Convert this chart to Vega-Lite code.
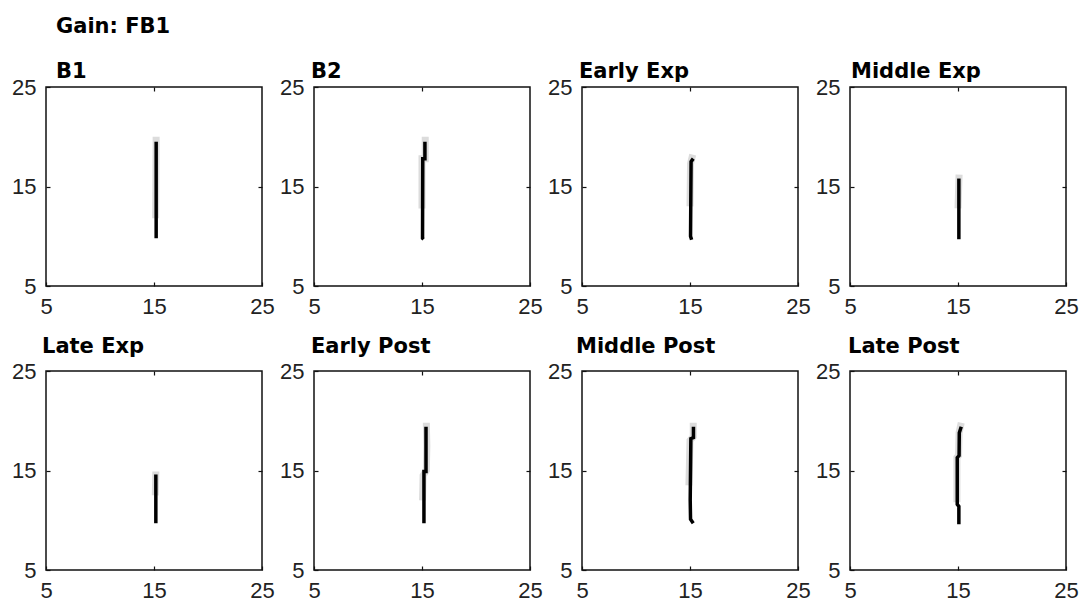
{
  "$schema": "https://vega.github.io/schema/vega-lite/v6.json",
  "padding": {"left": 10, "top": 16, "right": 5, "bottom": 2},
  "title": {"text": "Gain: FB1", "anchor": "start", "frame": "group", "dx": 10, "offset": 23},
  "columns": 4,
  "bounds": "flush",
  "spacing": {"row": 85, "column": 52},
  "datasets": {
    "lines": [
      {"panel": "B1", "part": "band", "ord": 1, "x": 15.2, "y": 20.0},
      {"panel": "B1", "part": "band", "ord": 2, "x": 15.15, "y": 11.8},
      {"panel": "B1", "part": "mean", "ord": 1, "x": 15.2, "y": 19.5},
      {"panel": "B1", "part": "mean", "ord": 2, "x": 15.2, "y": 9.8},

      {"panel": "B2", "part": "band", "ord": 1, "x": 15.3, "y": 20.0},
      {"panel": "B2", "part": "band", "ord": 2, "x": 15.3, "y": 17.8},
      {"panel": "B2", "part": "band", "ord": 3, "x": 15.0, "y": 17.8},
      {"panel": "B2", "part": "band", "ord": 4, "x": 15.0, "y": 12.8},
      {"panel": "B2", "part": "mean", "ord": 1, "x": 15.27, "y": 19.5},
      {"panel": "B2", "part": "mean", "ord": 2, "x": 15.27, "y": 17.8},
      {"panel": "B2", "part": "mean", "ord": 3, "x": 15.07, "y": 17.8},
      {"panel": "B2", "part": "mean", "ord": 4, "x": 15.05, "y": 9.8},
      {"panel": "B2", "part": "mean", "ord": 5, "x": 15.15, "y": 9.7},

      {"panel": "Early Exp", "part": "band", "ord": 1, "x": 15.25, "y": 18.2},
      {"panel": "Early Exp", "part": "band", "ord": 2, "x": 15.05, "y": 17.3},
      {"panel": "Early Exp", "part": "band", "ord": 3, "x": 15.0, "y": 13.0},
      {"panel": "Early Exp", "part": "mean", "ord": 1, "x": 15.3, "y": 17.8},
      {"panel": "Early Exp", "part": "mean", "ord": 2, "x": 15.1, "y": 17.5},
      {"panel": "Early Exp", "part": "mean", "ord": 3, "x": 15.05, "y": 10.0},
      {"panel": "Early Exp", "part": "mean", "ord": 4, "x": 15.15, "y": 9.65},

      {"panel": "Middle Exp", "part": "band", "ord": 1, "x": 15.1, "y": 16.2},
      {"panel": "Middle Exp", "part": "band", "ord": 2, "x": 15.0, "y": 12.8},
      {"panel": "Middle Exp", "part": "mean", "ord": 1, "x": 15.08, "y": 15.8},
      {"panel": "Middle Exp", "part": "mean", "ord": 2, "x": 15.08, "y": 9.7},

      {"panel": "Late Exp", "part": "band", "ord": 1, "x": 15.17, "y": 14.9},
      {"panel": "Late Exp", "part": "band", "ord": 2, "x": 15.12, "y": 12.5},
      {"panel": "Late Exp", "part": "mean", "ord": 1, "x": 15.17, "y": 14.6},
      {"panel": "Late Exp", "part": "mean", "ord": 2, "x": 15.17, "y": 9.7},

      {"panel": "Early Post", "part": "band", "ord": 1, "x": 15.4, "y": 19.8},
      {"panel": "Early Post", "part": "band", "ord": 2, "x": 15.45, "y": 17.5},
      {"panel": "Early Post", "part": "band", "ord": 3, "x": 15.4, "y": 15.0},
      {"panel": "Early Post", "part": "band", "ord": 4, "x": 15.1, "y": 14.5},
      {"panel": "Early Post", "part": "band", "ord": 5, "x": 15.05, "y": 12.0},
      {"panel": "Early Post", "part": "mean", "ord": 1, "x": 15.37, "y": 19.4},
      {"panel": "Early Post", "part": "mean", "ord": 2, "x": 15.37, "y": 14.9},
      {"panel": "Early Post", "part": "mean", "ord": 3, "x": 15.18, "y": 14.9},
      {"panel": "Early Post", "part": "mean", "ord": 4, "x": 15.18, "y": 9.7},

      {"panel": "Middle Post", "part": "band", "ord": 1, "x": 15.3, "y": 19.8},
      {"panel": "Middle Post", "part": "band", "ord": 2, "x": 15.3, "y": 18.4},
      {"panel": "Middle Post", "part": "band", "ord": 3, "x": 15.0, "y": 18.0},
      {"panel": "Middle Post", "part": "band", "ord": 4, "x": 14.9, "y": 13.5},
      {"panel": "Middle Post", "part": "mean", "ord": 1, "x": 15.32, "y": 19.4},
      {"panel": "Middle Post", "part": "mean", "ord": 2, "x": 15.32, "y": 18.3},
      {"panel": "Middle Post", "part": "mean", "ord": 3, "x": 15.08, "y": 18.2},
      {"panel": "Middle Post", "part": "mean", "ord": 4, "x": 15.02, "y": 12.0},
      {"panel": "Middle Post", "part": "mean", "ord": 5, "x": 15.05, "y": 10.1},
      {"panel": "Middle Post", "part": "mean", "ord": 6, "x": 15.3, "y": 9.7},

      {"panel": "Late Post", "part": "band", "ord": 1, "x": 15.3, "y": 19.8},
      {"panel": "Late Post", "part": "band", "ord": 2, "x": 15.1, "y": 18.8},
      {"panel": "Late Post", "part": "band", "ord": 3, "x": 15.05, "y": 16.5},
      {"panel": "Late Post", "part": "band", "ord": 4, "x": 14.9, "y": 16.3},
      {"panel": "Late Post", "part": "band", "ord": 5, "x": 14.9, "y": 11.8},
      {"panel": "Late Post", "part": "mean", "ord": 1, "x": 15.3, "y": 19.4},
      {"panel": "Late Post", "part": "mean", "ord": 2, "x": 15.12, "y": 18.8},
      {"panel": "Late Post", "part": "mean", "ord": 3, "x": 15.1, "y": 16.5},
      {"panel": "Late Post", "part": "mean", "ord": 4, "x": 14.93, "y": 16.3},
      {"panel": "Late Post", "part": "mean", "ord": 5, "x": 14.93, "y": 11.6},
      {"panel": "Late Post", "part": "mean", "ord": 6, "x": 15.08, "y": 11.4},
      {"panel": "Late Post", "part": "mean", "ord": 7, "x": 15.08, "y": 9.6}
    ]
  },
  "concat": [
    {"title": {"text": "B1", "dx": 10, "offset": -6}, "width": 216, "height": 199, "data": {"name": "lines"}, "transform": [{"filter": {"field": "panel", "equal": "B1"}}],
     "layer": [
      {"transform": [{"filter": {"field": "part", "equal": "band"}}], "mark": {"type": "line", "color": "#dcdcdc", "strokeWidth": 7},
       "encoding": {"x": {"field": "x", "type": "quantitative", "scale": {"domain": [5, 25]}, "axis": {"values": [5, 15, 25]}}, "y": {"field": "y", "type": "quantitative", "scale": {"domain": [5, 25]}, "axis": {"values": [5, 15, 25]}}, "order": {"field": "ord", "type": "quantitative"}}},
      {"transform": [{"filter": {"field": "part", "equal": "mean"}}], "mark": {"type": "line", "color": "#000", "strokeWidth": 3.5},
       "encoding": {"x": {"field": "x", "type": "quantitative", "scale": {"domain": [5, 25]}, "axis": {"orient": "top", "values": [15], "labels": false}}, "y": {"field": "y", "type": "quantitative", "scale": {"domain": [5, 25]}, "axis": {"orient": "right", "values": [15], "labels": false}}, "order": {"field": "ord", "type": "quantitative"}}}
     ],
     "resolve": {"axis": {"x": "independent", "y": "independent"}}},
    {"title": {"text": "B2", "dx": -3, "offset": -6}, "width": 216, "height": 199, "data": {"name": "lines"}, "transform": [{"filter": {"field": "panel", "equal": "B2"}}],
     "layer": [
      {"transform": [{"filter": {"field": "part", "equal": "band"}}], "mark": {"type": "line", "color": "#dcdcdc", "strokeWidth": 7},
       "encoding": {"x": {"field": "x", "type": "quantitative", "scale": {"domain": [5, 25]}, "axis": {"values": [5, 15, 25]}}, "y": {"field": "y", "type": "quantitative", "scale": {"domain": [5, 25]}, "axis": {"values": [5, 15, 25]}}, "order": {"field": "ord", "type": "quantitative"}}},
      {"transform": [{"filter": {"field": "part", "equal": "mean"}}], "mark": {"type": "line", "color": "#000", "strokeWidth": 3.5},
       "encoding": {"x": {"field": "x", "type": "quantitative", "scale": {"domain": [5, 25]}, "axis": {"orient": "top", "values": [15], "labels": false}}, "y": {"field": "y", "type": "quantitative", "scale": {"domain": [5, 25]}, "axis": {"orient": "right", "values": [15], "labels": false}}, "order": {"field": "ord", "type": "quantitative"}}}
     ],
     "resolve": {"axis": {"x": "independent", "y": "independent"}}},
    {"title": {"text": "Early Exp", "dx": -3, "offset": -6}, "width": 216, "height": 199, "data": {"name": "lines"}, "transform": [{"filter": {"field": "panel", "equal": "Early Exp"}}],
     "layer": [
      {"transform": [{"filter": {"field": "part", "equal": "band"}}], "mark": {"type": "line", "color": "#dcdcdc", "strokeWidth": 7},
       "encoding": {"x": {"field": "x", "type": "quantitative", "scale": {"domain": [5, 25]}, "axis": {"values": [5, 15, 25]}}, "y": {"field": "y", "type": "quantitative", "scale": {"domain": [5, 25]}, "axis": {"values": [5, 15, 25]}}, "order": {"field": "ord", "type": "quantitative"}}},
      {"transform": [{"filter": {"field": "part", "equal": "mean"}}], "mark": {"type": "line", "color": "#000", "strokeWidth": 3.5},
       "encoding": {"x": {"field": "x", "type": "quantitative", "scale": {"domain": [5, 25]}, "axis": {"orient": "top", "values": [15], "labels": false}}, "y": {"field": "y", "type": "quantitative", "scale": {"domain": [5, 25]}, "axis": {"orient": "right", "values": [15], "labels": false}}, "order": {"field": "ord", "type": "quantitative"}}}
     ],
     "resolve": {"axis": {"x": "independent", "y": "independent"}}},
    {"title": {"text": "Middle Exp", "dx": 1, "offset": -6}, "width": 216, "height": 199, "data": {"name": "lines"}, "transform": [{"filter": {"field": "panel", "equal": "Middle Exp"}}],
     "layer": [
      {"transform": [{"filter": {"field": "part", "equal": "band"}}], "mark": {"type": "line", "color": "#dcdcdc", "strokeWidth": 7},
       "encoding": {"x": {"field": "x", "type": "quantitative", "scale": {"domain": [5, 25]}, "axis": {"values": [5, 15, 25]}}, "y": {"field": "y", "type": "quantitative", "scale": {"domain": [5, 25]}, "axis": {"values": [5, 15, 25]}}, "order": {"field": "ord", "type": "quantitative"}}},
      {"transform": [{"filter": {"field": "part", "equal": "mean"}}], "mark": {"type": "line", "color": "#000", "strokeWidth": 3.5},
       "encoding": {"x": {"field": "x", "type": "quantitative", "scale": {"domain": [5, 25]}, "axis": {"orient": "top", "values": [15], "labels": false}}, "y": {"field": "y", "type": "quantitative", "scale": {"domain": [5, 25]}, "axis": {"orient": "right", "values": [15], "labels": false}}, "order": {"field": "ord", "type": "quantitative"}}}
     ],
     "resolve": {"axis": {"x": "independent", "y": "independent"}}},
    {"title": {"text": "Late Exp", "dx": -4, "offset": 3}, "width": 216, "height": 199, "data": {"name": "lines"}, "transform": [{"filter": {"field": "panel", "equal": "Late Exp"}}],
     "layer": [
      {"transform": [{"filter": {"field": "part", "equal": "band"}}], "mark": {"type": "line", "color": "#dcdcdc", "strokeWidth": 7},
       "encoding": {"x": {"field": "x", "type": "quantitative", "scale": {"domain": [5, 25]}, "axis": {"values": [5, 15, 25]}}, "y": {"field": "y", "type": "quantitative", "scale": {"domain": [5, 25]}, "axis": {"values": [5, 15, 25]}}, "order": {"field": "ord", "type": "quantitative"}}},
      {"transform": [{"filter": {"field": "part", "equal": "mean"}}], "mark": {"type": "line", "color": "#000", "strokeWidth": 3.5},
       "encoding": {"x": {"field": "x", "type": "quantitative", "scale": {"domain": [5, 25]}, "axis": {"orient": "top", "values": [15], "labels": false}}, "y": {"field": "y", "type": "quantitative", "scale": {"domain": [5, 25]}, "axis": {"orient": "right", "values": [15], "labels": false}}, "order": {"field": "ord", "type": "quantitative"}}}
     ],
     "resolve": {"axis": {"x": "independent", "y": "independent"}}},
    {"title": {"text": "Early Post", "dx": -3, "offset": 3}, "width": 216, "height": 199, "data": {"name": "lines"}, "transform": [{"filter": {"field": "panel", "equal": "Early Post"}}],
     "layer": [
      {"transform": [{"filter": {"field": "part", "equal": "band"}}], "mark": {"type": "line", "color": "#dcdcdc", "strokeWidth": 7},
       "encoding": {"x": {"field": "x", "type": "quantitative", "scale": {"domain": [5, 25]}, "axis": {"values": [5, 15, 25]}}, "y": {"field": "y", "type": "quantitative", "scale": {"domain": [5, 25]}, "axis": {"values": [5, 15, 25]}}, "order": {"field": "ord", "type": "quantitative"}}},
      {"transform": [{"filter": {"field": "part", "equal": "mean"}}], "mark": {"type": "line", "color": "#000", "strokeWidth": 3.5},
       "encoding": {"x": {"field": "x", "type": "quantitative", "scale": {"domain": [5, 25]}, "axis": {"orient": "top", "values": [15], "labels": false}}, "y": {"field": "y", "type": "quantitative", "scale": {"domain": [5, 25]}, "axis": {"orient": "right", "values": [15], "labels": false}}, "order": {"field": "ord", "type": "quantitative"}}}
     ],
     "resolve": {"axis": {"x": "independent", "y": "independent"}}},
    {"title": {"text": "Middle Post", "dx": -6, "offset": 3}, "width": 216, "height": 199, "data": {"name": "lines"}, "transform": [{"filter": {"field": "panel", "equal": "Middle Post"}}],
     "layer": [
      {"transform": [{"filter": {"field": "part", "equal": "band"}}], "mark": {"type": "line", "color": "#dcdcdc", "strokeWidth": 7},
       "encoding": {"x": {"field": "x", "type": "quantitative", "scale": {"domain": [5, 25]}, "axis": {"values": [5, 15, 25]}}, "y": {"field": "y", "type": "quantitative", "scale": {"domain": [5, 25]}, "axis": {"values": [5, 15, 25]}}, "order": {"field": "ord", "type": "quantitative"}}},
      {"transform": [{"filter": {"field": "part", "equal": "mean"}}], "mark": {"type": "line", "color": "#000", "strokeWidth": 3.5},
       "encoding": {"x": {"field": "x", "type": "quantitative", "scale": {"domain": [5, 25]}, "axis": {"orient": "top", "values": [15], "labels": false}}, "y": {"field": "y", "type": "quantitative", "scale": {"domain": [5, 25]}, "axis": {"orient": "right", "values": [15], "labels": false}}, "order": {"field": "ord", "type": "quantitative"}}}
     ],
     "resolve": {"axis": {"x": "independent", "y": "independent"}}},
    {"title": {"text": "Late Post", "dx": -2, "offset": 3}, "width": 216, "height": 199, "data": {"name": "lines"}, "transform": [{"filter": {"field": "panel", "equal": "Late Post"}}],
     "layer": [
      {"transform": [{"filter": {"field": "part", "equal": "band"}}], "mark": {"type": "line", "color": "#dcdcdc", "strokeWidth": 7},
       "encoding": {"x": {"field": "x", "type": "quantitative", "scale": {"domain": [5, 25]}, "axis": {"values": [5, 15, 25]}}, "y": {"field": "y", "type": "quantitative", "scale": {"domain": [5, 25]}, "axis": {"values": [5, 15, 25]}}, "order": {"field": "ord", "type": "quantitative"}}},
      {"transform": [{"filter": {"field": "part", "equal": "mean"}}], "mark": {"type": "line", "color": "#000", "strokeWidth": 3.5},
       "encoding": {"x": {"field": "x", "type": "quantitative", "scale": {"domain": [5, 25]}, "axis": {"orient": "top", "values": [15], "labels": false}}, "y": {"field": "y", "type": "quantitative", "scale": {"domain": [5, 25]}, "axis": {"orient": "right", "values": [15], "labels": false}}, "order": {"field": "ord", "type": "quantitative"}}}
     ],
     "resolve": {"axis": {"x": "independent", "y": "independent"}}}
  ],
  "config": {
    "background": "white",
    "font": "Liberation Sans",
    "view": {"stroke": "#111", "strokeWidth": 1.5},
    "title": {"anchor": "start", "frame": "group", "fontSize": 21, "fontWeight": "bold", "font": "DejaVu Sans", "color": "#000", "baseline": "alphabetic"},
    "axis": {"title": null, "grid": false, "domain": false, "ticks": true, "tickSize": -4, "tickColor": "#111", "tickWidth": 1.2, "labelFontSize": 22, "labelFont": "Liberation Sans", "labelColor": "#222", "labelFlush": false, "labelOverlap": false},
    "axisX": {"labelPadding": 14},
    "axisY": {"labelPadding": 14}
  }
}
